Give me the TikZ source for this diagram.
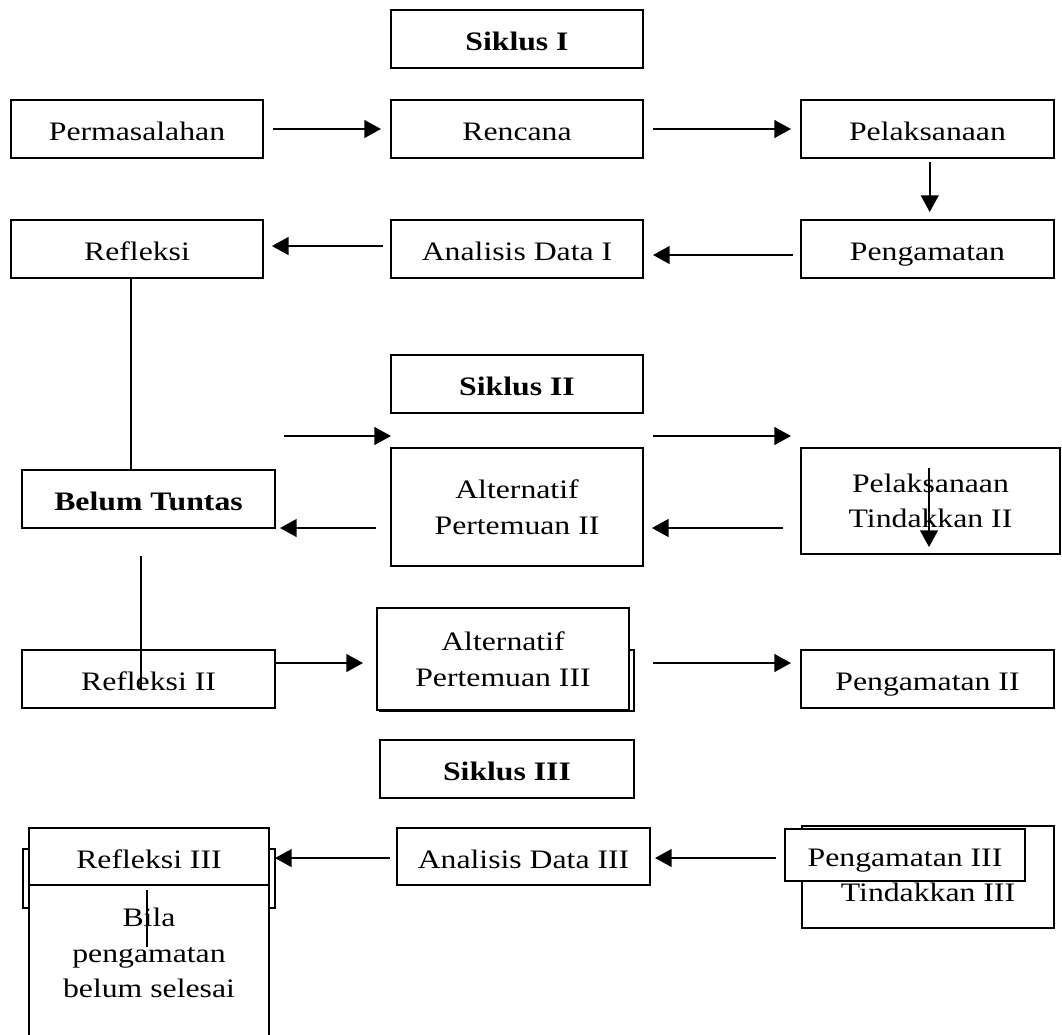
\documentclass[tikz,border=0pt]{standalone}
\usepackage{fontspec}
\setmainfont{Liberation Serif}[FakeStretch=1.19]
\usetikzlibrary{arrows.meta}

\begin{document}
\begin{tikzpicture}
[x=0.45pt,y=-0.45pt,>={Triangle[length=7.5pt,width=8pt]},line width=0.9pt,
font=\fontsize{12}{16}\selectfont]
\tikzstyle{box}=[draw=black,fill=white,rectangle,inner sep=0pt,outer sep=0pt,
minimum width=113.4pt,minimum height=26.1pt,align=center]
\tikzstyle{one}=[text height=11.5pt,text depth=1pt]
\tikzstyle{arr}=[->,shorten >=4.5pt,shorten <=4.5pt]
\useasboundingbox (0,0) rectangle (1062,1034);

% siklus I
\node[box,one] (siklusI) at (517,39) {\textbf{Siklus I}};
\node[box,one] (masalah) at (137,129) {Permasalahan};
\node[box,one] (rencana) at (517,129) {Rencana};
\node[box,one,minimum width=113.85pt] (laksana) at (927.5,129) {Pelaksanaan};
\node[box,one] (refleksi) at (137,249) {Refleksi};
\node[box,one] (analisisI) at (517,249) {Analisis Data I};
\node[box,one,minimum width=113.85pt] (amat) at (927.5,249) {Pengamatan};

% siklus II
\node[box,one] (siklusII) at (517,383.5) {\textbf{Siklus II}};
\node[box,one,minimum width=113.85pt] (belum) at (148.5,499) {\textbf{Belum Tuntas}};
\node[box,minimum height=53.1pt] (altII) at (517,507) {Alternatif\\Pertemuan II};
\node[box,minimum width=116.55pt,minimum height=47.7pt] (laksanaII) at (930.5,501)
  {Pelaksanaan\\Tindakkan II};
\node[box,one,minimum width=113.85pt] (refleksiII) at (148.5,679) {Refleksi II};
\node[box,minimum width=114.3pt,minimum height=27.45pt] (altIIIback) at (507,680.5) {};
\node[box,minimum height=45.9pt] (altIII) at (503,659) {Alternatif\\Pertemuan III};
\node[box,one,minimum width=113.85pt] (amatII) at (927.5,679) {Pengamatan II};
\coordinate (inII) at (284,436);
\coordinate (dnA) at (929,468);
\coordinate (dnB) at (929,547);

% siklus III
\node[box,one,minimum width=114.3pt] (siklusIII) at (507,769) {\textbf{Siklus III}};
\node[box,minimum height=26.55pt] (refIIIback) at (149,878.5) {};
\node[box,one,minimum width=108pt,minimum height=25.65pt] (refleksiIII) at (149,856.5)
  {Refleksi III};
\draw[fill=white] (refleksiIII.south west) rectangle ++(240,170);
\node[anchor=north,inner sep=0pt,align=center] (bila) at (149,907)
  {Bila\\pengamatan\\belum selesai};
\node[box,one,minimum width=113.85pt,minimum height=25.65pt] (analisisIII) at (523.5,856.5)
  {Analisis Data III};
\node[box,minimum height=45.9pt] (tindIII) at (928,877) {\strut\\\strut Tindakkan III};
\node[box,one,minimum width=108pt,minimum height=23.4pt] (amatIII) at (905,855)
  {Pengamatan III};

\draw[arr] (masalah) -- (rencana);
\draw[arr] (rencana) -- (laksana);
\draw[arr,shorten <=1.8pt,shorten >=3.6pt] ([xshift=1pt]laksana.south) -- ([xshift=1pt]amat.north);
\draw[arr,shorten <=3.6pt] ([yshift=-2.7pt]amat.west) -- ([yshift=-2.7pt]amat.west -| analisisI.east);
\draw[arr,shorten <=3.6pt,shorten >=4pt] ([yshift=1.35pt]analisisI.west) -- ([yshift=1.35pt]analisisI.west -| refleksi.east);
\draw ([xshift=-2.7pt]refleksi.south) -- ([xshift=-2.7pt]refleksi.south |- belum.north);

\draw[arr,shorten <=0pt,shorten >=0pt] (inII) -- (inII -| altII.west);
\draw[arr] (inII -| altII.east) -- (inII -| laksanaII.west);
\draw[arr,shorten <=6.75pt,shorten >=2.25pt] (altII.west |- belum.south) -- (belum.south east);
\draw[arr,shorten <=8.1pt,shorten >=4pt] (laksanaII.west |- belum.south) -- (altII.east |- belum.south);
\draw[->] (dnA) -- (dnB);
\draw ([xshift=-3.4pt,yshift=-12.6pt]belum.south) -- ([xshift=-3.4pt,yshift=-5pt]refleksiII.center);
\draw[arr,shorten <=0pt,shorten >=6.3pt] ([yshift=7.2pt]refleksiII.east) -- ([yshift=7.2pt]refleksiII.east -| altIII.west);
\draw[arr,shorten <=10.8pt] ([yshift=7.2pt]amatII.west -| altIII.east) -- ([yshift=7.2pt]amatII.west);

\draw[arr,shorten <=3.2pt,shorten >=0pt] ([yshift=-0.7pt]analisisIII.west) -- ([yshift=-0.7pt]analisisIII.west -| refIIIback.east);
\draw[arr,shorten <=4pt,shorten >=2.25pt] ([yshift=-1.35pt]amatIII.west) -- ([yshift=-1.35pt]amatIII.west -| analisisIII.east);
\draw ([xshift=-0.9pt,yshift=-2.25pt]refleksiIII.south) -- ++(0,57);
\end{tikzpicture}
\end{document}
